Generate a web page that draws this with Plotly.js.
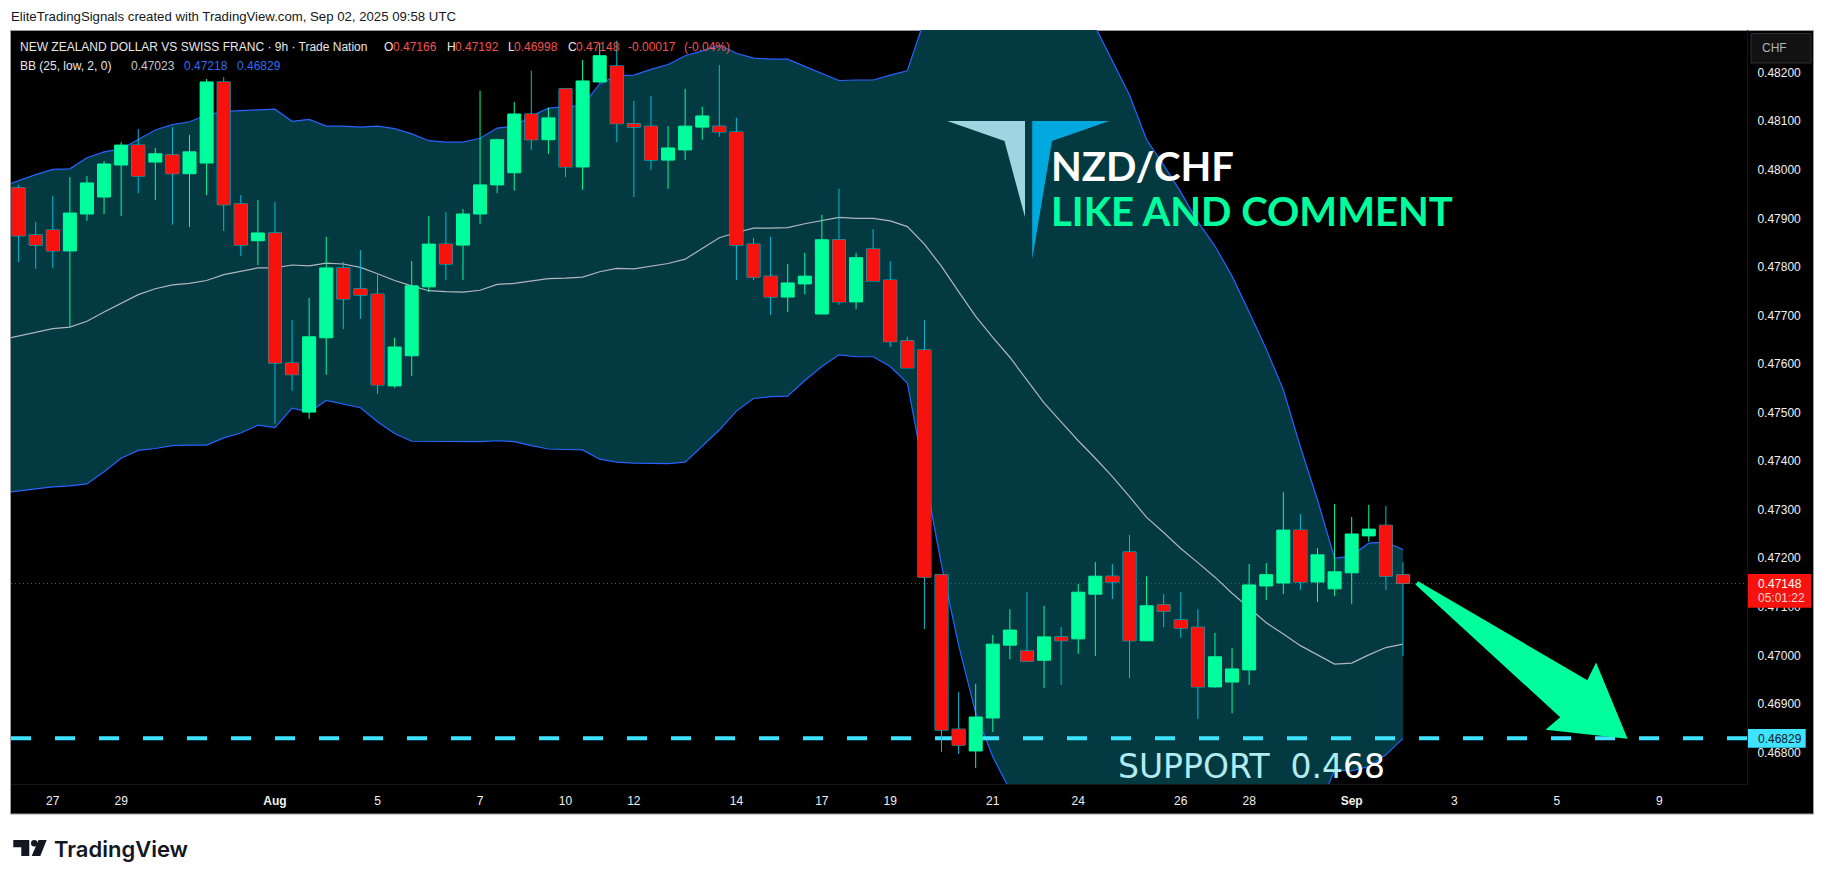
<!DOCTYPE html>
<html><head><meta charset="utf-8">
<script src="https://cdn.plot.ly/plotly-3.0.1.min.js"></script>
<style>html,body{margin:0;padding:0;background:#fff}#c{width:1826px;height:881px}</style>
</head><body><div id="c"></div>
<script>
const open=[0.47963,0.47866,0.47876,0.47833,0.47909,0.47944,0.48010,0.48051,0.48016,0.48031,
0.47992,0.48014,0.48181,0.47930,0.47854,0.47870,0.47602,0.47501,0.47654,0.47798,
0.47755,0.47744,0.47555,0.47617,0.47759,0.47847,0.47845,0.47909,0.47969,0.47994,
0.48115,0.48062,0.48167,0.48006,0.48181,0.48214,0.48095,0.48090,0.48020,0.48041,
0.48088,0.48090,0.48078,0.47847,0.47781,0.47738,0.47765,0.47703,0.47856,0.47728,
0.47837,0.47773,0.47648,0.47629,0.47166,0.46848,0.46803,0.46871,0.47021,0.47009,
0.46990,0.47038,0.47034,0.47126,0.47163,0.47213,0.47030,0.47104,0.47073,0.47058,
0.46935,0.46945,0.46970,0.47143,0.47149,0.47258,0.47151,0.47137,0.47170,0.47246,
0.47268,0.47166];
const close=[0.47864,0.47845,0.47833,0.47911,0.47973,0.48012,0.48051,0.47987,0.48033,0.47992,
0.48037,0.48181,0.47928,0.47845,0.47870,0.47602,0.47578,0.47656,0.47798,0.47734,
0.47742,0.47557,0.47635,0.47761,0.47847,0.47806,0.47909,0.47969,0.48062,0.48115,
0.48062,0.48107,0.48006,0.48183,0.48235,0.48095,0.48088,0.48020,0.48045,0.48090,
0.48111,0.48078,0.47845,0.47779,0.47738,0.47767,0.47781,0.47856,0.47728,0.47819,
0.47771,0.47646,0.47592,0.47161,0.46846,0.46815,0.46873,0.47023,0.47052,0.46988,
0.47038,0.47030,0.47130,0.47163,0.47151,0.47030,0.47102,0.47091,0.47056,0.46935,
0.46997,0.46972,0.47145,0.47166,0.47258,0.47151,0.47207,0.47172,0.47250,0.47260,
0.47163,0.47148];
const high=[0.47969,0.47893,0.47946,0.47985,0.47987,0.48018,0.48057,0.48084,0.48045,0.48088,
0.48072,0.48187,0.48191,0.47948,0.47938,0.47934,0.47691,0.47736,0.47862,0.47810,
0.47835,0.47786,0.47654,0.47812,0.47905,0.47913,0.47919,0.48163,0.48064,0.48140,
0.48204,0.48128,0.48169,0.48226,0.48261,0.48266,0.48142,0.48152,0.48090,0.48167,
0.48130,0.48216,0.48107,0.47860,0.47862,0.47806,0.47829,0.47907,0.47961,0.47829,
0.47878,0.47812,0.47656,0.47691,0.47166,0.46924,0.46941,0.47042,0.47095,0.47130,
0.47102,0.47058,0.47147,0.47192,0.47188,0.47248,0.47163,0.47126,0.47130,0.47095,
0.47046,0.47015,0.47188,0.47190,0.47336,0.47291,0.47221,0.47312,0.47285,0.47310,
0.47308,0.47192];
const low=[0.47810,0.47796,0.47798,0.47676,0.47895,0.47909,0.47905,0.47952,0.47938,0.47887,
0.47882,0.47948,0.47874,0.47823,0.47804,0.47477,0.47545,0.47487,0.47578,0.47672,
0.47693,0.47538,0.47551,0.47575,0.47748,0.47773,0.47773,0.47889,0.47952,0.47957,
0.48041,0.48033,0.47985,0.47959,0.48179,0.48057,0.47944,0.48000,0.47961,0.48020,
0.48062,0.48068,0.47773,0.47773,0.47701,0.47707,0.47744,0.47703,0.47722,0.47713,
0.47771,0.47635,0.47592,0.47054,0.46801,0.46797,0.46768,0.46842,0.46992,0.46988,
0.46933,0.46939,0.47003,0.46999,0.47116,0.46953,0.47030,0.47058,0.47036,0.46869,
0.46933,0.46881,0.46939,0.47114,0.47126,0.47135,0.47110,0.47122,0.47106,0.47234,
0.47135,0.46998];
// Bollinger bands: one extra leading bar so the lines reach the left edge
const bbUpper=[0.47965,0.47978,0.47990,0.48001,0.48002,0.48025,0.48037,0.48043,0.48062,0.48082,
0.48093,0.48099,0.48113,0.48120,0.48122,0.48123,0.48125,0.48100,0.48104,0.48090,
0.48090,0.48088,0.48090,0.48085,0.48074,0.48060,0.48057,0.48057,0.48065,0.48086,
0.48090,0.48111,0.48127,0.48130,0.48132,0.48177,0.48194,0.48195,0.48207,0.48217,
0.48235,0.48245,0.48257,0.48240,0.48230,0.48228,0.48228,0.48213,0.48198,0.48184,
0.48185,0.48185,0.48195,0.48204,0.48309,0.48432,0.48474,0.48515,0.48535,0.48546,
0.48556,0.48546,0.48494,0.48401,0.48294,0.48224,0.48154,0.48062,0.48010,0.47954,
0.47893,0.47843,0.47781,0.47707,0.47631,0.47547,0.47429,0.47320,0.47200,0.47205,
0.47231,0.47233,0.47218];
const bbBasis=[0.47650,0.47658,0.47665,0.47673,0.47676,0.47688,0.47707,0.47725,0.47743,0.47755,
0.47763,0.47766,0.47772,0.47784,0.47791,0.47798,0.47798,0.47804,0.47802,0.47808,
0.47806,0.47799,0.47786,0.47772,0.47761,0.47751,0.47749,0.47748,0.47752,0.47764,
0.47766,0.47771,0.47776,0.47777,0.47779,0.47790,0.47797,0.47796,0.47802,0.47807,
0.47816,0.47838,0.47860,0.47871,0.47880,0.47880,0.47881,0.47889,0.47895,0.47902,
0.47900,0.47900,0.47895,0.47883,0.47847,0.47801,0.47749,0.47698,0.47655,0.47614,
0.47567,0.47520,0.47481,0.47442,0.47406,0.47368,0.47327,0.47284,0.47253,0.47220,
0.47191,0.47161,0.47128,0.47098,0.47067,0.47044,0.47020,0.47001,0.46982,0.46984,
0.47001,0.47016,0.47023];
const bbLower=[0.47334,0.47339,0.47343,0.47347,0.47349,0.47353,0.47378,0.47406,0.47422,0.47426,
0.47432,0.47433,0.47433,0.47448,0.47458,0.47474,0.47469,0.47509,0.47501,0.47525,
0.47518,0.47510,0.47481,0.47457,0.47441,0.47441,0.47440,0.47440,0.47440,0.47442,
0.47440,0.47432,0.47425,0.47424,0.47423,0.47404,0.47398,0.47396,0.47396,0.47395,
0.47398,0.47432,0.47464,0.47503,0.47529,0.47533,0.47534,0.47566,0.47595,0.47619,
0.47615,0.47615,0.47595,0.47561,0.47376,0.47186,0.47021,0.46881,0.46791,0.46723,
0.46661,0.46620,0.46589,0.46558,0.46537,0.46517,0.46506,0.46496,0.46496,0.46506,
0.46517,0.46527,0.46548,0.46568,0.46589,0.46609,0.46640,0.46679,0.46764,0.46762,
0.46771,0.46795,0.46829];
const priceTicks=[0.482,0.481,0.480,0.479,0.478,0.477,0.476,0.475,0.474,0.473,0.472,0.471,0.470,0.469,0.468];
const timeTickBars=[2,6,15,21,27,32,36,42,47,51,57,62,68,72,78,84,90,96];
const timeTickText=['27','29','<b>Aug</b>','5','7','10','12','14','17','19','21','24','26','28','<b>Sep</b>','3','5','9'];
const lastPrice=0.47148, supportPrice=0.46829;

const PL=11,PR=1747,PT=30,PB=784;
const px=x=>(x-PL)/(PR-PL), py=y=>(PB-y)/(PB-PT);
const poly=pts=>pts.map((p,i)=>(i?'L':'M')+px(p[0]).toFixed(5)+' '+py(p[1]).toFixed(5)).join(' ')+' Z';
const bars=open.map((_,i)=>i);
const bbBars=bbUpper.map((_,i)=>i-1);
const xRange=[-0.445,101.13], yRange=[0.46735,0.48288];
const RED='#F7120D',GREEN='#00FF9C',WICK='#00BCD4',BLUE='#2962FF',TEAL='#033A42',GREY='#B2B5BE',AQUA='#3DE3FF';

const traces=[
 {type:'scatter',mode:'lines',x:bbBars,y:bbLower,line:{color:BLUE,width:1.2},hoverinfo:'skip'},
 {type:'scatter',mode:'lines',x:bbBars,y:bbUpper,line:{color:BLUE,width:1.2},fill:'tonexty',fillcolor:TEAL,hoverinfo:'skip'},
 {type:'scatter',mode:'lines',x:bbBars,y:bbBasis,line:{color:GREY,width:1.2},hoverinfo:'skip'},
 {type:'scatter',mode:'lines',x:xRange,y:[lastPrice,lastPrice],line:{color:RED,width:1,dash:'1px,3px'},hoverinfo:'skip'},
 {type:'scatter',mode:'lines',x:xRange,y:[supportPrice,supportPrice],line:{color:AQUA,width:4,dash:'20px,24px'},hoverinfo:'skip'},
 {type:'candlestick',xaxis:'x2',yaxis:'y2',x:bars,open,high,low,close,
  increasing:{line:{color:GREEN,width:1},fillcolor:'rgba(0,0,0,0)'},
  decreasing:{line:{color:WICK,width:1},fillcolor:'rgba(0,0,0,0)'},hoverinfo:'skip'},
 {type:'candlestick',xaxis:'x2',yaxis:'y2',x:bars,open,close,
  high:open.map((o,i)=>Math.max(o,close[i])),low:open.map((o,i)=>Math.min(o,close[i])),
  increasing:{line:{color:GREEN,width:0},fillcolor:GREEN},
  decreasing:{line:{color:RED,width:0},fillcolor:RED},hoverinfo:'skip'}
];
const note=(text,x,y,size,color,extra)=>Object.assign({xref:'paper',yref:'paper',x:px(x),y:py(y),text,showarrow:false,
  xanchor:'left',yanchor:'middle',align:'left',borderpad:0,
  font:{family:'"Liberation Sans",sans-serif',size,color}},extra||{});
const LR='#F2524F',LB='#2F6BF2',LW='#E8E8E8';
const annotations=[
 note('NEW ZEALAND DOLLAR VS SWISS FRANC · 9h · Trade Nation',19,46.7,12,LW),
 note('O',383,46.7,12,LW),note('0.47166',391.5,46.7,12,LR),
 note('H',445.5,46.7,12,LW),note('0.47192',454,46.7,12,LR),
 note('L',506.5,46.7,12,LW),note('0.46998',513,46.7,12,LR),
 note('C',566.5,46.7,12,LW),note('0.47148',575,46.7,12,LR),
 note('-0.00017',627,46.7,12,LR),note('(-0.04%)',683,46.7,12,LR),
 note('BB (25, low, 2, 0)',19,65.7,12,LW),
 note('0.47023',130,65.7,12,'#C8C8C8'),note('0.47218',182.7,65.7,12,LB),note('0.46829',235.7,65.7,12,LB),
 note('NZD/CHF',1050,166,40,'#FFFFFF',{font:{family:'Lato,sans-serif',size:40,color:'#FFFFFF',weight:700}}),
 note('LIKE AND COMMENT',1050,211,40,GREEN,{font:{family:'Lato,sans-serif',size:40,color:GREEN,weight:700}}),
 note('SUPPORT  0.4<span style="color:#FFFFFF">68</span>',1117,766,33,'#B2EBF2',{font:{family:'"DejaVu Sans",sans-serif',size:33,color:'#B2EBF2'}}),
 note('CHF',1761,48,12,'#B0B3B8'),
 note('0.47148',1756.7,583.7,12,'#FFFFFF'),
 note('05:01:22',1756.7,598.3,12,'#F7D0CE'),
 note('0.46829',1756.7,738.5,12,'#131722'),
 note('TradingView',53,849,22,'#131722',{font:{family:'Inter,sans-serif',size:22,color:'#131722',weight:600}})
];
const fillShape=(path,color)=>({type:'path',xref:'paper',yref:'paper',path,fillcolor:color,line:{color,width:0},layer:'above'});
const box=(x0,y0,x1,y1,fill,line,layer)=>({type:'rect',xref:'paper',yref:'paper',x0:px(x0),y0:py(y0),x1:px(x1),y1:py(y1),fillcolor:fill,line:{color:line||fill,width:line?1:0},layer:layer||'above'});
const shapes=[
 box(10.5,30.5,1813.5,814,'#000000','#9A9A9A','below'),
 fillShape(poly([[947.2,121],[1025,121],[1025,217.3],[1004.5,141]]),'#9ED5E0'),
 fillShape(poly([[1032.2,121],[1109.3,121],[1052,141],[1032.2,259.3]]),'#00A8DD'),
 {type:'path',xref:'paper',yref:'paper',layer:'above',fillcolor:GREEN,line:{color:GREEN,width:2},
  path:poly([[1418.5,582.5],[1587.7,681.7],[1596,665],[1626,737.5],[1548,729],[1561.7,717.3],[1416.8,584.5]])},
 box(1748,574,1811,607.7,RED),
 box(1748,729,1805.7,747.7,'#3DE3FF'),
 box(1751,33.5,1811,63,'#121212','#2A2E39'),
 fillShape(poly([[13.3,840],[29.3,840],[29.3,856],[21.3,856],[21.3,847.3],[13.3,847.3]]),'#131722'),
 {type:'circle',xref:'paper',yref:'paper',layer:'above',x0:px(31),x1:px(37.5),y0:py(840),y1:py(846.5),fillcolor:'#131722',line:{width:0}},
 fillShape(poly([[38.5,840],[46.7,840],[40.3,856],[31.7,856]]),'#131722')
];
const layout={
 width:1826,height:881,autosize:false,showlegend:false,hovermode:false,
 paper_bgcolor:'#FFFFFF',plot_bgcolor:'#000000',
 margin:{l:PL,r:1826-PR,t:PT,b:881-PB,pad:0},
 boxmode:'overlay',boxgap:0.24,boxgroupgap:0,
 title:{text:'EliteTradingSignals created with TradingView.com, Sep 02, 2025 09:58 UTC',x:11/1826,xanchor:'left',xref:'container',y:1-16.7/881,yanchor:'middle',yref:'container',
  font:{family:'"Liberation Sans",sans-serif',size:13.2,color:'#131722'}},
 xaxis:{type:'linear',range:xRange,rangeslider:{visible:false},showgrid:false,zeroline:false,showline:true,linecolor:'#161616',linewidth:1,
  tickmode:'array',tickvals:timeTickBars,ticktext:timeTickText,ticks:'',ticklabelstandoff:6,tickfont:{family:'"Liberation Sans",sans-serif',size:12,color:'#F0F0F0'}},
 yaxis:{type:'linear',range:yRange,side:'right',showgrid:false,zeroline:false,showline:true,linecolor:'#161616',linewidth:1,
  tickmode:'array',tickvals:priceTicks,tickformat:'.5f',ticks:'',ticklabelstandoff:7,tickfont:{family:'"Liberation Sans",sans-serif',size:12,color:'#F0F0F0'}},
 xaxis2:{type:'linear',range:xRange,overlaying:'x',anchor:'y2',visible:false,rangeslider:{visible:false},showgrid:false,zeroline:false},
 yaxis2:{type:'linear',range:yRange,overlaying:'y',anchor:'x2',visible:false,showgrid:false,zeroline:false},
 shapes,annotations
};
Plotly.newPlot('c',traces,layout,{staticPlot:true,displayModeBar:false,responsive:false});
</script></body></html>
